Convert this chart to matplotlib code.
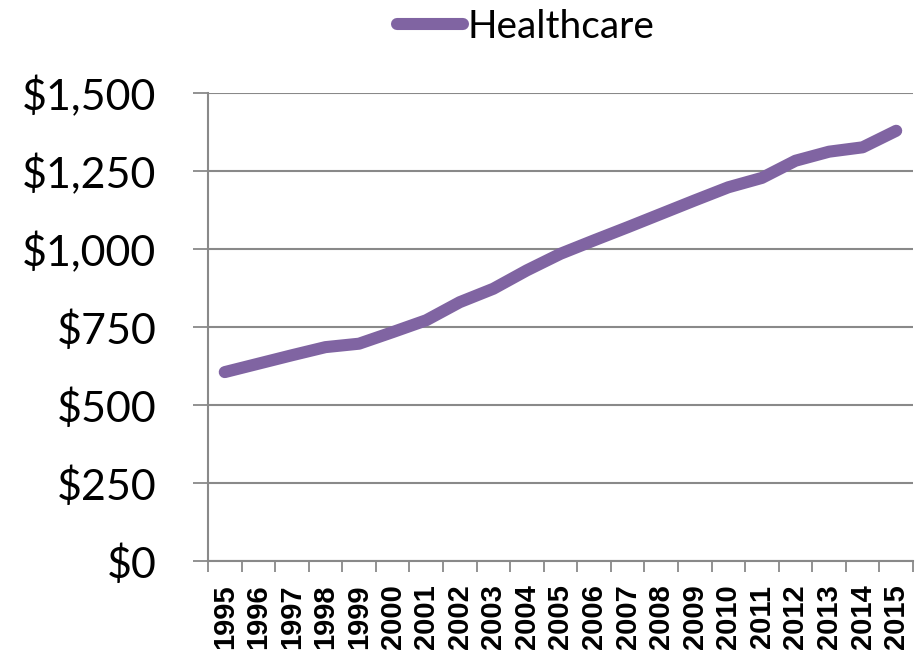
import numpy as np
import matplotlib.pyplot as plt

years = [str(y) for y in range(1995, 2016)]
healthcare = [605, 632, 659, 685, 696, 733, 771, 829, 872, 931, 984,
              1027, 1069, 1112, 1155, 1197, 1227, 1282, 1311, 1325, 1378]
y_ticks = [0, 250, 500, 750, 1000, 1250, 1500]

purple = "#8064A2"
grid_gray = "#898989"

fig = plt.figure(figsize=(9.21, 6.54), dpi=100)
ax = fig.add_axes([0.2258, 0.1422, 0.9913 - 0.2258, 0.8583 - 0.1422])

x = np.arange(len(years))
line, = ax.plot(x, healthcare, color=purple, lw=8.7, solid_capstyle="round",
                solid_joinstyle="round", label="Healthcare", zorder=3)

ax.set_xlim(-0.5, len(years) - 0.5)
ax.set_ylim(0, 1500)

# y axis
ax.set_yticks(y_ticks)
ax.set_yticklabels([f"${v:,}" for v in y_ticks], fontsize=31, family="Lato")
ax.tick_params(axis="y", direction="out", length=11, width=1.3,
               color=grid_gray, pad=26)
ax.grid(axis="y", color=grid_gray, lw=1.5)
ax.set_axisbelow(True)

# x axis: labels at centers, tick marks between categories
ax.set_xticks(x)
ax.set_xticklabels(years, rotation=90, fontsize=21, fontweight="bold",
                   family="Liberation Sans")
ax.tick_params(axis="x", which="major", length=0, pad=17)
ax.set_xticks(np.arange(-0.5, len(years)), minor=True)
ax.tick_params(axis="x", which="minor", direction="out", length=8,
               width=1.3, color=grid_gray)

for s in ["top", "right"]:
    ax.spines[s].set_visible(False)
for s in ["left", "bottom"]:
    ax.spines[s].set_color(grid_gray)
    ax.spines[s].set_linewidth(1.5)

leg = fig.legend(handles=[line], loc="center", bbox_to_anchor=(0.5706, 0.9587),
                 frameon=False, handlelength=1.7, handletextpad=0.1,
                 prop={"family": "Lato", "size": 28})

fig.savefig("out.png", dpi=100)
